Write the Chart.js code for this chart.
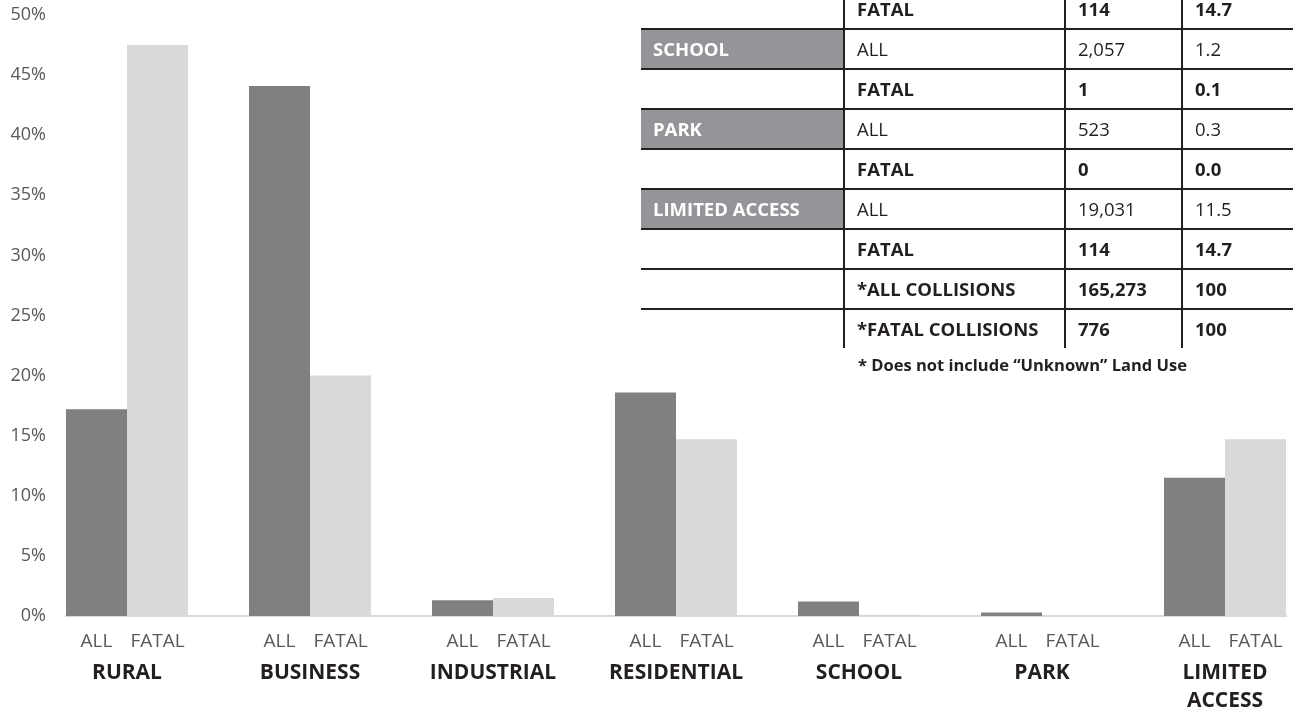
<!DOCTYPE html>
<html>
<head>
<meta charset="utf-8">
<title>Collisions by land use</title>
<script src="https://cdn.jsdelivr.net/npm/chart.js@4.4.0/dist/chart.umd.min.js"></script>
<style>
  html, body { margin: 0; padding: 0; background: #fff; }
  #wrap { position: relative; width: 1293px; height: 713px; overflow: hidden; }
  #landChart { position: absolute; left: 0; top: 0; }

  /* table overlay, top right */
  #landTable { position: absolute; left: 641px; top: -10px; width: 652px;
    font-family: 'Open Sans', sans-serif; font-size: 18.5px; color: #231f20; }
  .row { display: flex; height: 40px; box-sizing: border-box; border-bottom: 2px solid #231f20; }
  .row.last { border-bottom: none; height: 38px; }
  .row div { box-sizing: border-box; padding-left: 12px; line-height: 38px; white-space: nowrap; }
  .c1 { width: 202px; }
  .c2 { width: 221px; border-left: 2px solid #231f20; }
  .c3 { width: 117px; border-left: 2px solid #231f20; }
  .c4 { width: 112px; border-left: 2px solid #231f20; }
  .grey { background: #939598; color: #fff; font-weight: bold; }
  .b { font-weight: bold; }
  #note { position: absolute; left: 858px; top: 354px; font-family: 'Open Sans', sans-serif;
    font-weight: bold; font-size: 16.5px; line-height: 22px; color: #231f20; white-space: nowrap; }
</style>
</head>
<body>
<div id="wrap">
  <canvas id="landChart" width="1293" height="713"></canvas>

  <div id="landTable">
    <div class="row b"><div class="c1"></div><div class="c2">FATAL</div><div class="c3">114</div><div class="c4">14.7</div></div>
    <div class="row"><div class="c1 grey">SCHOOL</div><div class="c2">ALL</div><div class="c3">2,057</div><div class="c4">1.2</div></div>
    <div class="row b"><div class="c1"></div><div class="c2">FATAL</div><div class="c3">1</div><div class="c4">0.1</div></div>
    <div class="row"><div class="c1 grey">PARK</div><div class="c2">ALL</div><div class="c3">523</div><div class="c4">0.3</div></div>
    <div class="row b"><div class="c1"></div><div class="c2">FATAL</div><div class="c3">0</div><div class="c4">0.0</div></div>
    <div class="row"><div class="c1 grey">LIMITED ACCESS</div><div class="c2">ALL</div><div class="c3">19,031</div><div class="c4">11.5</div></div>
    <div class="row b"><div class="c1"></div><div class="c2">FATAL</div><div class="c3">114</div><div class="c4">14.7</div></div>
    <div class="row b"><div class="c1"></div><div class="c2">*ALL COLLISIONS</div><div class="c3">165,273</div><div class="c4">100</div></div>
    <div class="row b last"><div class="c1"></div><div class="c2">*FATAL COLLISIONS</div><div class="c3">776</div><div class="c4">100</div></div>
  </div>
  <div id="note">* Does not include “Unknown” Land Use</div>
</div>

<script>
// land use groups, two bars each
const categories = ['RURAL', 'BUSINESS', 'INDUSTRIAL', 'RESIDENTIAL', 'SCHOOL', 'PARK', ['LIMITED', 'ACCESS']]
const barLabels = ['ALL', 'FATAL']

const allValues = [17.2, 44.1, 1.3, 18.6, 1.2, 0.3, 11.5]
const fatalValues = [47.5, 20.0, 1.5, 14.7, 0.1, 0.0, 14.7]

// y axis
const yMax = 50
const yStep = 5

const xMin = -1 / 3
const xMax = categories.length - 1 + 1 / 3

function toPoints(values) {
    return values.map((v, i) => ({ x: i, y: v }))
}

// tick helpers - group centres and the two bar centres
const centreTicks = (s) => { s.ticks = categories.map((c, i) => ({ value: i })) }
const barTicks = (s) => {
    const t = []
    categories.forEach((c, i) => {
        t.push({ value: i - 1 / 6 })
        t.push({ value: i + 1 / 6 })
    })
    s.ticks = t
}
// fixed box sizes so the plot lands where the original one is
const fitBox = (h) => (s) => {
    s.height = h
    s.paddingLeft = 0
    s.paddingRight = 0
}

Chart.defaults.font.family = "'Open Sans', sans-serif"

const ctx = document.getElementById('landChart')
const myChart = new Chart(ctx, {
    type: 'bar',
    data: {
        datasets: [{
            label: 'ALL',
            data: toPoints(allValues),
            backgroundColor: '#808080',
            borderWidth: 0,
            categoryPercentage: 2 / 3,
            barPercentage: 1
        }, {
            label: 'FATAL',
            data: toPoints(fatalValues),
            backgroundColor: '#d9d9d9',
            borderWidth: 0,
            categoryPercentage: 2 / 3,
            barPercentage: 1
        }]
    },
    options: {
        responsive: false,
        animation: false,
        layout: { padding: { top: 15, right: 7, left: 0, bottom: 0 } },
        plugins: {
            legend: { display: false },
            tooltip: { enabled: false }
        },
        scales: {
            x: {
                type: 'linear',
                display: false,
                offset: false,
                min: xMin,
                max: xMax,
                afterBuildTicks: centreTicks,
                afterFit: fitBox(0),
                grid: { display: false, drawTicks: false, offset: false },
                ticks: { display: false }
            },
            xSub: {
                type: 'linear',
                position: 'bottom',
                weight: 0,
                offset: false,
                min: xMin,
                max: xMax,
                afterBuildTicks: barTicks,
                afterFit: fitBox(37.4),
                grid: { display: false, drawTicks: false, offset: false },
                border: { display: true, color: '#d9d9d9', width: 2 },
                ticks: {
                    autoSkip: false,
                    maxRotation: 0,
                    padding: 14.6,
                    color: '#595959',
                    font: { size: 19 },
                    callback: (v, i) => barLabels[i % 2]
                }
            },
            xCat: {
                type: 'linear',
                position: 'bottom',
                weight: 1,
                offset: false,
                min: xMin,
                max: xMax,
                afterBuildTicks: centreTicks,
                afterFit: fitBox(59.6),
                grid: { display: false, drawTicks: false, offset: false },
                border: { display: false },
                ticks: {
                    autoSkip: false,
                    maxRotation: 0,
                    padding: 5.4,
                    color: '#231f20',
                    font: { size: 21, weight: 'bold', lineHeight: 1.35 },
                    callback: (v, i) => categories[i]
                }
            },
            y: {
                min: 0,
                max: yMax,
                grid: { display: false, drawTicks: false },
                border: { display: false },
                afterFit: (s) => {
                    s.width = 66
                    s.paddingTop = 0
                    s.paddingBottom = 0
                },
                ticks: {
                    stepSize: yStep,
                    padding: 20,
                    color: '#595959',
                    font: { size: 18 },
                    callback: (v) => v + '%'
                }
            }
        }
    }
})
</script>
</body>
</html>
